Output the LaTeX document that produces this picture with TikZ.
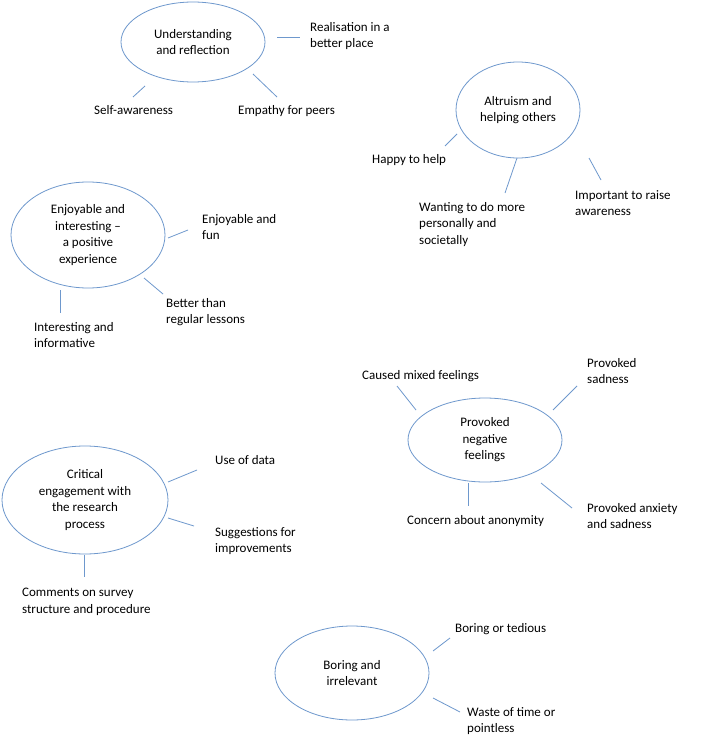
\documentclass[tikz,border=0pt]{standalone}
\usepackage{fontspec}
\setmainfont{Carlito}
\usetikzlibrary{shapes.geometric}
\definecolor{lb}{RGB}{110,152,205}
\begin{document}
\begin{tikzpicture}[x=1pt,y=-1pt,
  theme/.style={ellipse, draw=lb, line width=0.8pt, inner sep=0pt, align=center, font=\fontsize{13}{16.5}\selectfont},
  lbl/.style={anchor=north west, inner sep=0pt, align=left, font=\fontsize{13}{16.5}\selectfont, yshift=-4pt},
  link/.style={draw=lb, line width=0.8pt}]
\useasboundingbox[fill=white] (0,0) rectangle (710,754);

% Themes
\node[theme, minimum width=144pt, minimum height=80pt] (und) at (193,42) {Understanding\\and reflection};
\node[theme, minimum width=124pt, minimum height=96pt] (alt) at (518,110) {Altruism and\\helping others};
\node[theme, minimum width=154pt, minimum height=106pt] (enj) at (88,235) {Enjoyable and\\interesting --\\a positive\\experience};
\node[theme, minimum width=154pt, minimum height=84pt] (neg) at (485,440) {Provoked\\negative\\feelings};
\node[theme, minimum width=166pt, minimum height=108pt] (crit) at (85,500) {Critical\\engagement with\\the research\\process};
\node[theme, minimum width=154pt, minimum height=94pt] (bor) at (352,673) {Boring and\\irrelevant};

% Labels
\node[lbl] (real) at (310,18) {Realisation in a\\better place};
\node[lbl] (self) at (94,101) {Self-awareness};
\node[lbl] (emp) at (238,101) {Empathy for peers};
\node[lbl] (happy) at (372,150) {Happy to help};
\node[lbl] (want) at (419,198) {Wanting to do more\\personally and\\societally};
\node[lbl] (imp) at (575,186) {Important to raise\\awareness};
\node[lbl] (fun) at (202,210) {Enjoyable and\\fun};
\node[lbl] (better) at (166,294) {Better than\\regular lessons};
\node[lbl] (info) at (34,318) {Interesting and\\informative};
\node[lbl] (mixed) at (362,366) {Caused mixed feelings};
\node[lbl] (sad) at (587,354) {Provoked\\sadness};
\node[lbl] (anon) at (407,511) {Concern about anonymity};
\node[lbl] (anx) at (587,499) {Provoked anxiety\\and sadness};
\node[lbl] (data) at (215,451) {Use of data};
\node[lbl] (sugg) at (215,523) {Suggestions for\\improvements};
\node[lbl] (comm) at (22,584) {Comments on survey\\structure and procedure};
\node[lbl] (ted) at (455,619) {Boring or tedious};
\node[lbl] (waste) at (467,703) {Waste of time or\\pointless};

% Connector end points
\coordinate (a1) at (277,37);  \coordinate (b1) at (300,37);
\coordinate (a2) at (145,86);  \coordinate (b2) at (133,97);
\coordinate (a3) at (253,74);  \coordinate (b3) at (277,97);
\coordinate (a4) at (457,134); \coordinate (b4) at (445,146);
\coordinate (a5) at (517,158); \coordinate (b5) at (505,193);
\coordinate (a6) at (589,158); \coordinate (b6) at (601,180);
\coordinate (a7) at (168,238); \coordinate (b7) at (188,230);
\coordinate (a8) at (144,278); \coordinate (b8) at (163,294);
\coordinate (a9) at (60,290);  \coordinate (b9) at (60,313);
\coordinate (a10) at (416,410); \coordinate (b10) at (397,386);
\coordinate (a11) at (553,410); \coordinate (b11) at (577,386);
\coordinate (a12) at (468,483); \coordinate (b12) at (468,506);
\coordinate (a13) at (541,483); \coordinate (b13) at (572,508);
\coordinate (a14) at (168,482); \coordinate (b14) at (197,470);
\coordinate (a15) at (168,518); \coordinate (b15) at (194,526);
\coordinate (a16) at (84,555);  \coordinate (b16) at (84,577);
\coordinate (a17) at (433,651); \coordinate (b17) at (450,638);
\coordinate (a18) at (433,698); \coordinate (b18) at (460,712);

\foreach \i in {1,...,18} { \draw[link] (a\i) -- (b\i); }
\end{tikzpicture}
\end{document}
